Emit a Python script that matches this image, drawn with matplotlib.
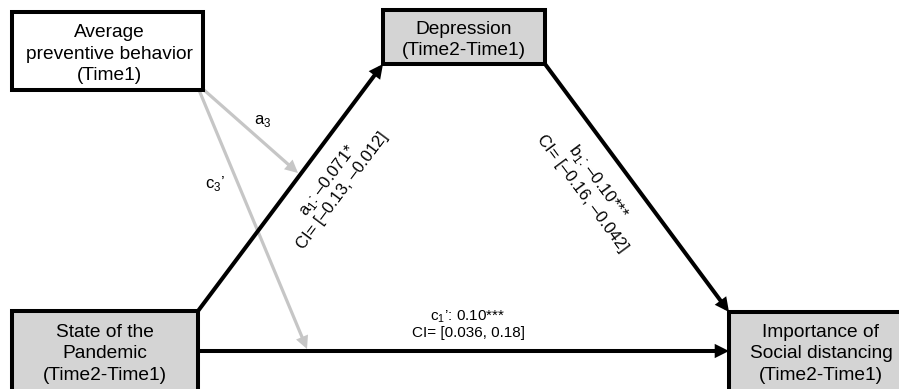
import matplotlib
matplotlib.use("Agg")
import matplotlib.pyplot as plt
from matplotlib.patches import Rectangle, FancyArrowPatch

plt.rcParams["font.family"] = ["Liberation Sans", "DejaVu Sans"]
plt.rcParams["mathtext.fontset"] = "custom"
plt.rcParams["mathtext.rm"] = "Liberation Sans"

# ── path model values ──────────────────────────────────────────
node_names = [
    "Average\npreventive behavior\n(Time1)",
    "Depression\n(Time2-Time1)",
    "State of the\nPandemic\n(Time2-Time1)",
    "Importance of\nSocial distancing\n(Time2-Time1)",
]
path_names = ["a", "b", "c"]
path_coef = [-0.071, -0.10, 0.10]
path_ci = [(-0.13, -0.012), (-0.16, -0.042), (0.036, 0.18)]
path_sig = ["*", "***", "***"]
mod_names = ["a$_\\mathregular{3}$", "c$_\\mathregular{3}$\u2019"]

# ── layout (pixel space, y down) ───────────────────────────────
W, H = 899, 389
boxes = [  # x0, y0, x1, y1, fill
    (12, 12, 203, 90, "white"),
    (383, 10, 545, 64, "#d4d4d4"),
    (12, 311, 198, 400, "#d4d4d4"),
    (729, 312, 910, 400, "#d4d4d4"),
]
text_xy = [(109, 54), (464, 40), (105, 354), (821, 354)]

BLACK_LW = 2.9
GRAY_LW = 2.3
GRAY = "#c6c6c6"


def fmt(v):
    s = f"{abs(v):.3g}" if abs(v) < 0.1 else f"{abs(v):.2f}"
    return ("\u2013" if v < 0 else "") + s


def arrow(ax, p0, p1, color, lw):
    ax.add_patch(FancyArrowPatch(p0, p1, arrowstyle="-|>", mutation_scale=14,
                                 color=color, lw=lw, shrinkA=0, shrinkB=0,
                                 joinstyle="miter", capstyle="butt", zorder=2))


fig = plt.figure(figsize=(W / 100, H / 100), dpi=100)
ax = fig.add_axes([0, 0, 1, 1])
ax.set_xlim(0, W)
ax.set_ylim(H, 0)
ax.axis("off")

for (x0, y0, x1, y1, fc), name, (tx, ty) in zip(boxes, node_names, text_xy):
    ax.add_patch(Rectangle((x0, y0), x1 - x0, y1 - y0, facecolor=fc,
                           edgecolor="black", lw=2.9, zorder=3))
    ax.text(tx, ty, name, ha="center", va="center", fontsize=13.8,
            linespacing=1.32, zorder=4)

# moderator paths
arrow(ax, (204, 90), (298, 173), GRAY, GRAY_LW)
arrow(ax, (199, 90), (307, 349), GRAY, GRAY_LW)
ax.text(263, 121, mod_names[0], ha="center", va="center", fontsize=12)
ax.text(215, 183, mod_names[1], ha="center", va="center", fontsize=12)

# main paths
arrow(ax, (198, 311), (383, 64), "black", BLACK_LW)
arrow(ax, (545, 64), (729, 312), "black", BLACK_LW)
arrow(ax, (198, 351), (729, 351), "black", BLACK_LW)

labels = []
for name, coef, (lo, hi), sig in zip(path_names, path_coef, path_ci, path_sig):
    prime = "\u2019" if name == "c" else ""
    labels.append(f"{name}$_\\mathregular{{1}}${prime}: {fmt(coef)}{sig}\n"
                  f"CI= [{fmt(lo)}, {fmt(hi)}]")

ax.text(334, 185, labels[0], ha="center", va="center", rotation=53.2,
        rotation_mode="anchor", fontsize=12, linespacing=1.15)
ax.text(591, 187, labels[1], ha="center", va="center", rotation=-53.4,
        rotation_mode="anchor", fontsize=12, linespacing=1.15)
ax.text(468, 324, labels[2], ha="center", va="center", fontsize=11,
        linespacing=1.15)

fig.savefig("out.png", dpi=100)
